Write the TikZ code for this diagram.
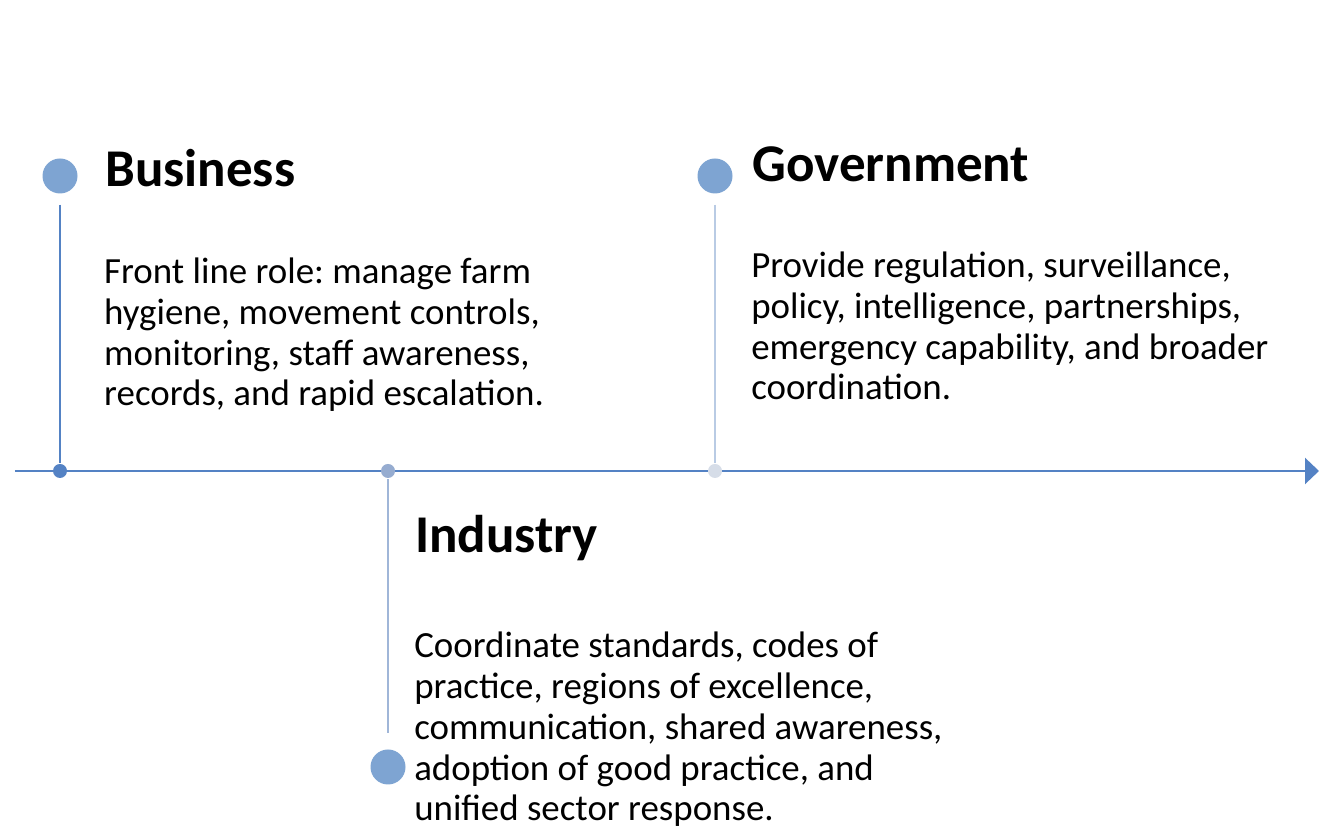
\documentclass[tikz,border=0pt]{standalone}
\usepackage{fontspec}
\setmainfont{Carlito}
\usetikzlibrary{positioning,arrows.meta}
\frenchspacing

\definecolor{axisblue}{RGB}{84,130,196}
\definecolor{dotblue}{RGB}{126,164,210}
\definecolor{pinmid}{RGB}{150,172,208}
\definecolor{pinlight}{RGB}{214,221,232}
\definecolor{stemlight}{RGB}{185,203,228}
\definecolor{stemmid}{RGB}{160,182,216}

\tikzset{
  bigdot/.style={circle,fill=dotblue,inner sep=0pt,minimum size=0.35cm},
  pin/.style={circle,inner sep=0pt,minimum size=0.14cm},
  title/.style={anchor=base west,inner sep=0pt,font=\fontsize{15.1}{18}\selectfont\bfseries},
  body/.style={anchor=base west,inner sep=0pt,align=left,font=\fontsize{10.5}{11.66}\selectfont}
}

\begin{document}
\begin{tikzpicture}[>=Stealth,line width=0.025cm]
  \useasboundingbox (0,0) rectangle (13.19,8.29);
  % time axis
  \coordinate (start) at (0.15,3.58);
  \coordinate (stop) at (13.19,3.58);
  \draw[axisblue,-{Triangle[length=0.14cm,width=0.26cm]}] (start) -- (stop);

  % business
  \node[bigdot] (bizdot) at (0.60,6.53) {};
  \node[pin,fill=axisblue] (bizpin) at (0.60,3.58) {};
  \draw[axisblue,line width=0.02cm,shorten <=0.1cm] (bizdot) -- (bizpin);
  \node[title] (biztitle) at (1.04,6.42) {Business};
  \node[body] (biztext) at (1.03,4.23)
    {Front line role: manage farm\\hygiene, movement controls,\\monitoring, staff awareness,\\records, and rapid escalation.};

  % industry
  \node[pin,fill=pinmid] (indpin) at (3.88,3.58) {};
  \node[bigdot] (inddot) at (3.88,0.62) {};
  \draw[stemmid,line width=0.02cm,shorten >=0.15cm] (indpin) -- (inddot);
  \node[title] (indtitle) at (4.14,2.76) {Industry};
  \node[body] (indtext) at (4.13,0.08)
    {Coordinate standards, codes of\\practice, regions of excellence,\\communication, shared awareness,\\adoption of good practice, and\\unified sector response.};

  % government
  \node[bigdot] (govdot) at (7.15,6.53) {};
  \node[pin,fill=pinlight] (govpin) at (7.15,3.58) {};
  \draw[stemlight,line width=0.02cm,shorten <=0.1cm] (govdot) -- (govpin);
  \node[title] (govtitle) at (7.51,6.47) {Government};
  \node[body] (govtext) at (7.50,4.29)
    {Provide regulation, surveillance,\\policy, intelligence, partnerships,\\emergency capability, and broader\\coordination.};
\end{tikzpicture}
\end{document}
